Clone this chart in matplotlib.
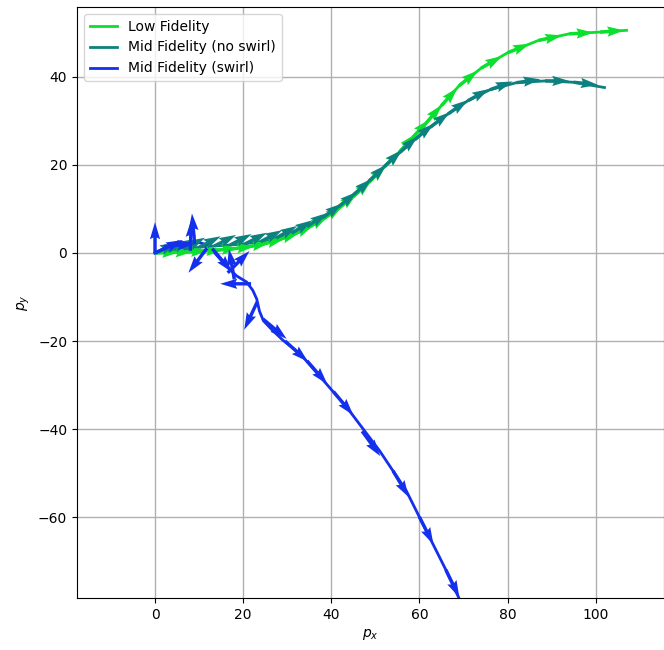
"""
Trajectory comparison: low vs mid fidelity models, with heading arrows
"""

import numpy as np
import matplotlib
matplotlib.use('Agg')
import matplotlib.pyplot as plt

# --- Low Fidelity trajectory (p_x, p_y) and heading at each step (deg)
low_x = [0, 3, 6.5, 10, 13.5, 17, 20.5, 24, 27.5, 31, 34.5, 38, 41.5, 45, 48.5,
         52, 55.5, 58.5, 61.5, 65, 69, 74, 80, 87, 94, 101, 107]
low_y = [0, 0.1, 0.2, 0.4, 0.6, 0.9, 1.3, 1.9, 2.8, 4.0, 5.6, 7.6, 10, 12.8, 16.0,
         19.5, 23, 26.3, 29.5, 33.5, 38, 42, 45.5, 48.3, 49.8, 50.2, 50.6]
low_head = [2, 2, 3, 3, 5, 6, 10, 14, 19, 25, 30, 34, 39, 42, 45,
            45, 48, 47, 49, 48, 39, 30, 22, 12, 3, 4]

# --- Mid Fidelity (no swirl)
mid_x = [0, 3, 6.5, 10, 13.5, 17, 20.5, 24, 27.5, 31, 34.5, 38, 41.5, 45, 48.5,
         52, 55.5, 59, 62.5, 66.5, 71, 76, 82, 88.5, 95, 102]
mid_y = [0, 0.4, 0.9, 1.3, 1.6, 1.8, 2.1, 2.6, 3.4, 4.5, 6.0, 8.0, 10.4, 13.2, 16.3,
         19.6, 22.8, 25.8, 28.6, 31.6, 34.6, 37.1, 38.7, 39.1, 38.8, 37.6]
mid_head = [25, 28, 28, 27, 27, 27, 27, 28, 30, 32, 34, 36, 39, 41, 43,
            43, 42, 40, 38, 35, 29, 20, 8, 0, -6]

# --- Mid Fidelity (swirl)
swirl_x = [0, 2.5, 5, 7.5, 9.5, 11, 12.5, 14, 16, 18.5, 20.8, 22.2, 23.1, 23.7, 24.6,
           26.4, 29, 33, 38, 44, 51, 57, 60, 63, 66, 69]
swirl_y = [0, 1, 1.8, 2.4, 2.5, 2.1, 1.2, -0.5, -2.8, -5.2, -6.6, -8.5, -10.5, -13.2, -15.4,
           -17.3, -19.8, -23, -28.7, -35.7, -45, -54, -60, -66, -72, -78.5]
swirl_arrow_x = [0, 0, 2, 8, 9, 11.8, 16.5, 18, 21.8, 13, 23.2, 24.5, 29.5, 34.5,
                 40.5, 47, 54, 60, 66]
swirl_arrow_y = [0, 0, 1.5, 0.5, 2, 1.1, -4.5, -6, -7, 1, -11.1, -15, -20, -24.5,
                 -31.5, -40.5, -49.5, -60, -72]
swirl_head = [90, 25, 5, 88, 95, 233, 45, 100, 180, 310, 245, -40, -42, -49,
              -50, -54, -59, -63, -64]

GREEN = '#0ce02e'
TEAL = '#0d8080'
BLUE = '#1430ec'


def arrows(ax, x, y, head, length, color):
    th = np.radians(head)
    ax.quiver(x, y, length * np.cos(th), length * np.sin(th), color=color,
              angles='xy', scale_units='xy', scale=1, width=0.0058, zorder=3)


fig = plt.figure(figsize=(6.64, 6.5), dpi=100)
ax = fig.add_axes([77 / 664, 52 / 650, 587 / 664, 591 / 650])

ax.plot(low_x, low_y, color=GREEN, lw=2, label='Low Fidelity', zorder=2)
arrows(ax, low_x[:-1], low_y[:-1], low_head, 5.5, GREEN)

ax.plot(mid_x, mid_y, color=TEAL, lw=2, label='Mid Fidelity (no swirl)', zorder=2)
arrows(ax, mid_x[:-1], mid_y[:-1], mid_head, 5.5, TEAL)

ax.plot(swirl_x, swirl_y, color=BLUE, lw=2, label='Mid Fidelity (swirl)', zorder=2)
arrows(ax, swirl_arrow_x, swirl_arrow_y, swirl_head, 7, BLUE)

ax.set_xlim(-17.7, 115.5)
ax.set_ylim(-78.4, 55.9)
ax.set_xticks([0, 20, 40, 60, 80, 100])
ax.set_yticks([-60, -40, -20, 0, 20, 40])
ax.grid(True, color='#b0b0b0', lw=1)
ax.set_axisbelow(True)
ax.set_xlabel('$p_x$')
ax.set_ylabel('$p_y$')
ax.legend(loc='upper left')

plt.savefig('out.png', dpi=100)
